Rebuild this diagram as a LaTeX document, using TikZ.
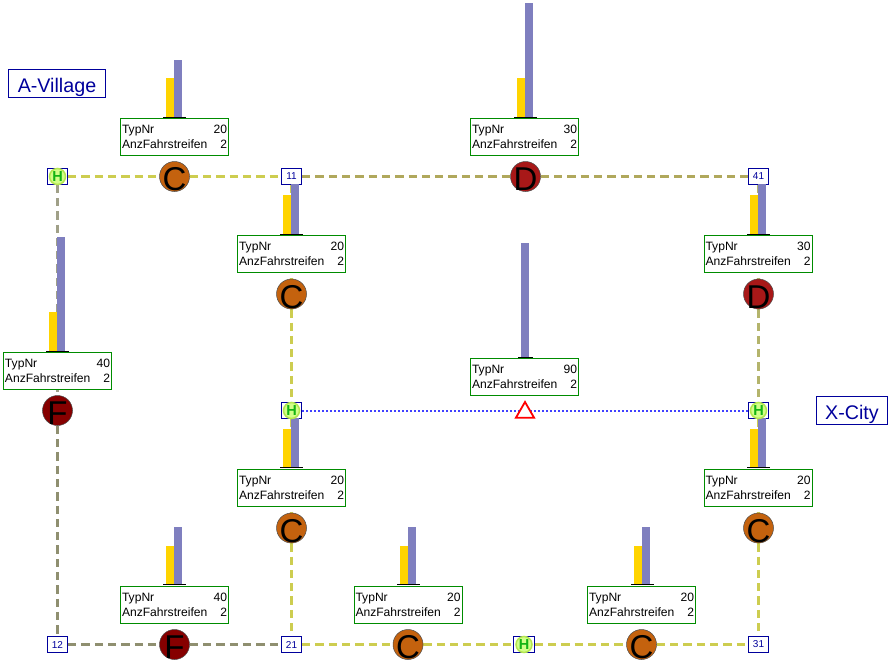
\documentclass[tikz,border=0pt]{standalone}
\usepackage{fontspec}
\setmainfont{Liberation Sans}
\usetikzlibrary{shapes.geometric,backgrounds}
\definecolor{linkyellow}{HTML}{CDCD50}
\definecolor{linkolive}{HTML}{B0A85C}
\definecolor{linkgrey}{HTML}{8F8F70}
\definecolor{linkpale}{HTML}{A0A088}
\definecolor{linksage}{HTML}{B4B46C}
\definecolor{boxblue}{HTML}{00009C}
\definecolor{boxgreen}{HTML}{008C00}
\definecolor{barblue}{HTML}{7F7FBF}
\definecolor{baryellow}{HTML}{FFD400}
\definecolor{typeC}{HTML}{C4620E}
\definecolor{typeD}{HTML}{A81818}
\definecolor{typeF}{HTML}{860000}
\definecolor{hubring}{HTML}{B4E650}
\definecolor{hubfill}{HTML}{D2FF88}
\definecolor{hubtext}{HTML}{14B414}
\tikzset{
x=1pt, y=-1pt,
junction/.style={draw=boxblue, fill=white, line width=.8pt, inner sep=0pt, minimum width=20.500pt, minimum height=15.500pt, font=\fontsize{10}{10}\selectfont, text=boxblue},
hubstop/.style={circle, draw=hubring, fill=hubfill, line width=1.500pt, inner sep=0pt, minimum size=16pt, font=\fontsize{14.500}{14.500}\selectfont\bfseries, text=hubtext},
placename/.style={draw=boxblue, fill=white, line width=.8pt, inner sep=0pt, minimum height=28pt, font=\fontsize{19.700}{19.700}\selectfont, text=boxblue, text height=18pt, text depth=0pt},
infobox/.style={draw=boxgreen, fill=white, line width=.8pt, inner sep=1.500pt, text width=105pt, minimum height=37pt, font=\fontsize{12.100}{15.500}\selectfont, align=left},
grade/.style={circle, draw=black!70, line width=.5pt, inner sep=0pt, minimum size=30pt, text=black, font=\fontsize{33}{33}\selectfont},
gradeC/.style={grade, fill=typeC},
gradeD/.style={grade, fill=typeD},
gradeF/.style={grade, fill=typeF},
barbase/.style={draw=black, line width=.8pt},
road/.style={line width=2.800pt, dash pattern=on 8.300pt off 5pt},
yellowroad/.style={road, draw=linkyellow},
oliveroad/.style={road, draw=linkolive},
greyroad/.style={road, draw=linkgrey},
paleroad/.style={road, draw=linkpale},
sageroad/.style={road, draw=linksage},
railroad/.style={draw=blue!75, line width=2pt, dash pattern=on 2pt off 2pt},
}
\newcommand{\letterdown}[1]{\smash{\raisebox{-14pt}{#1}}}
\newcommand{\typerows}[1]{TypNr\hfill #1\\AnzFahrstreifen\hfill 2}
\begin{document}
\begin{tikzpicture}
   \useasboundingbox (0,0) rectangle (889,662);

   \node[junction] (n11) at (291.500,176.500) {11};
   \node[junction] (n41) at (758.500,176.500) {41};
   \node[junction] (n12) at (57.500,644.500) {12};
   \node[junction] (n21) at (291.500,644.500) {21};
   \node[junction] (n31) at (758.500,644.500) {31};
   \node[junction] (h1) at (57.500,176.500) {};
   \node[junction] (h2) at (291.500,410.500) {};
   \node[junction] (h3) at (758.500,410.500) {};
   \node[junction] (h4) at (524,644.500) {};

   % road sections
   \node[gradeC] (c1) at (174.500,176.500) {\letterdown{C}};
   \node[gradeD] (d1) at (525.500,176.500) {\letterdown{D}};
   \node[gradeC] (c2) at (291.500,294) {\letterdown{C}};
   \node[gradeD] (d2) at (758.500,294) {\letterdown{D}};
   \node[gradeF] (f1) at (57.500,410.500) {\letterdown{F}};
   \node[gradeC] (c3) at (291.500,528) {\letterdown{C}};
   \node[gradeC] (c4) at (758.500,528) {\letterdown{C}};
   \node[gradeF] (f2) at (174.500,644.500) {\letterdown{F}};
   \node[gradeC] (c5) at (408,644.500) {\letterdown{C}};
   \node[gradeC] (c6) at (641.500,644.500) {\letterdown{C}};
   \node[regular polygon, regular polygon sides=3, draw=red, fill=white, line width=1.800pt, inner sep=0pt, minimum size=21pt] (t1) at (525,412.500) {};

   \node[placename, minimum width=97pt] (avillage) at (57,83) {A-Village};
   \node[placename, minimum width=71pt] (xcity) at (852,410) {X-City};

   % bars
   \foreach \bx/\by/\ytop/\btop in {174/117/78/60, 525/117/78/3, 291/234/195/184, 758/234/195/184, 57/351/312/237, 291/467/429/418, 758/467/429/418, 174/584/546/527, 408/584/546/527, 642/584/546/527}{
      \fill[baryellow] (\bx-8,\ytop) rectangle (\bx,\by);
      \fill[barblue] (\bx,\btop) rectangle (\bx+8,\by);
      \draw[barbase] (\bx-11,\by) -- (\bx+12,\by);
   }
   \fill[barblue] (521,243) rectangle (529,357);
   \draw[barbase] (518,357) -- (533,357);

   \node[infobox] (i1) at (174.500,137) {\typerows{20}};
   \node[infobox] (i2) at (524.500,137) {\typerows{30}};
   \node[infobox] (i3) at (291.500,254) {\typerows{20}};
   \node[infobox] (i4) at (758,254) {\typerows{30}};
   \node[infobox] (i5) at (57.500,371) {\typerows{40}};
   \node[infobox] (i6) at (524.500,377) {\typerows{90}};
   \node[infobox] (i7) at (291.500,488) {\typerows{20}};
   \node[infobox] (i8) at (758,488) {\typerows{20}};
   \node[infobox] (i9) at (174.500,605) {\typerows{40}};
   \node[infobox] (i10) at (408,605) {\typerows{20}};
   \node[infobox] (i11) at (641.500,605) {\typerows{20}};

   \node[hubstop] at (h1) {H};
   \node[hubstop] at (h2) {H};
   \node[hubstop] at (h3) {H};
   \node[hubstop] at (h4) {H};

   \begin{scope}[on background layer]
   \path
    (h1) edge[yellowroad] (c1)
    (c1) edge[yellowroad] (n11)
    (n11) edge[oliveroad] (d1)
    (d1) edge[oliveroad] (n41)
    (h1) edge[paleroad] (f1)
    (f1) edge[greyroad] (n12)
    (n12) edge[greyroad] (f2)
    (f2) edge[greyroad] (n21)
    (n21) edge[yellowroad] (c5)
    (c5) edge[yellowroad] (h4)
    (h4) edge[yellowroad] (c6)
    (c6) edge[yellowroad] (n31)
    (n11) edge[yellowroad] (c2)
    (c2) edge[yellowroad] (h2)
    (h2) edge[yellowroad] (c3)
    (c3) edge[yellowroad] (n21)
    (n41) edge[sageroad] (d2)
    (d2) edge[sageroad] (h3)
    (h3) edge[yellowroad] (c4)
    (c4) edge[yellowroad] (n31)
    (h2) edge[railroad] (h3);
   \end{scope}
\end{tikzpicture}
\end{document}
